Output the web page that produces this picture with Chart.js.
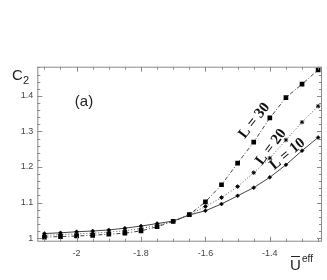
<!DOCTYPE html>
<html>
<head>
<meta charset="utf-8">
<script src="https://cdn.jsdelivr.net/npm/chart.js@4"></script>
<style>
  html, body { margin: 0; padding: 0; background: #fff; }
  #wrap { width: 327px; height: 280px; }
</style>
</head>
<body>
<div id="wrap"><canvas id="c2Chart" width="327" height="280"></canvas></div>
<script>
// U_eff values (x) shared by all three series
const uEff = [-2.1, -2.05, -2.0, -1.95, -1.9, -1.85, -1.8, -1.75, -1.7, -1.65,
              -1.6, -1.55, -1.5, -1.45, -1.4, -1.35, -1.3, -1.25];
const c2L10 = [1.013, 1.015, 1.018, 1.020, 1.023, 1.028, 1.034, 1.041, 1.048, 1.065,
               1.077, 1.096, 1.119, 1.142, 1.171, 1.206, 1.246, 1.283];
const c2L20 = [1.008, 1.010, 1.012, 1.014, 1.017, 1.021, 1.027, 1.036, 1.047, 1.066,
               1.089, 1.114, 1.145, 1.184, 1.225, 1.276, 1.326, 1.371];
const c2L30 = [1.003, 1.0045, 1.006, 1.008, 1.011, 1.014, 1.0205, 1.032, 1.047, 1.066,
               1.102, 1.150, 1.211, 1.270, 1.338, 1.395, 1.433, 1.473];
const xTickLabels = [-2, -1.8, -1.6, -1.4];
const yTickLabels = [1, 1.1, 1.2, 1.3, 1.4];
const curveLabels = [
  { text: 'L = 30', x: -1.448, y: 1.330, angle: -52 },
  { text: 'L = 20', x: -1.396, y: 1.256, angle: -53 },
  { text: 'L = 10', x: -1.345, y: 1.236, angle: -40 }
];

const pts = arr => arr.map((v, i) => ({ x: uEff[i], y: v }));
const fmt = v => String(Math.round(v * 10) / 10);

// frame with inward ticks on all sides + text annotations
const framePlugin = {
  id: 'frame',
  afterDraw(chart) {
    const { ctx, chartArea: a, scales: { x, y } } = chart;
    ctx.save();
    ctx.strokeStyle = '#8a8a8a';
    ctx.lineWidth = 1;
    ctx.strokeRect(a.left + 0.5, a.top + 0.5, a.right - a.left - 1, a.bottom - a.top - 1);

    ctx.beginPath();
    for (let i = -44; i <= -24; i++) {
      const v = i * 0.05;
      if (v < x.min || v > x.max) continue;
      const px = Math.round(x.getPixelForValue(v)) + 0.5;
      const len = (Math.abs(v / 0.2 - Math.round(v / 0.2)) < 1e-6) ? 5 : 3;
      ctx.moveTo(px, a.bottom); ctx.lineTo(px, a.bottom - len);
      ctx.moveTo(px, a.top); ctx.lineTo(px, a.top + len);
    }
    for (let i = 49; i <= 75; i++) {
      const v = i * 0.02;
      if (v < y.min || v > y.max) continue;
      const py = Math.round(y.getPixelForValue(v)) + 0.5;
      const len = (Math.abs(v / 0.1 - Math.round(v / 0.1)) < 1e-6) ? 5 : 3;
      ctx.moveTo(a.left, py); ctx.lineTo(a.left + len, py);
      ctx.moveTo(a.right, py); ctx.lineTo(a.right - len, py);
    }
    ctx.stroke();

    // curve labels
    ctx.fillStyle = '#111';
    ctx.font = 'bold 15px "Liberation Serif", "DejaVu Serif", serif';
    ctx.textAlign = 'center';
    ctx.textBaseline = 'middle';
    curveLabels.forEach(l => {
      ctx.save();
      ctx.translate(x.getPixelForValue(l.x), y.getPixelForValue(l.y));
      ctx.rotate(l.angle * Math.PI / 180);
      ctx.fillText(l.text, 0, 0);
      ctx.restore();
    });

    // panel label and axis titles
    ctx.fillStyle = '#222';
    ctx.font = '15px "Liberation Sans", Arial, sans-serif';
    ctx.textAlign = 'center';
    ctx.fillText('(a)', 84, 102);

    ctx.textAlign = 'left';
    ctx.textBaseline = 'alphabetic';
    ctx.font = '15px "Liberation Sans", Arial, sans-serif';
    ctx.fillText('C', 12, 80);
    ctx.font = '11px "Liberation Sans", Arial, sans-serif';
    ctx.fillText('2', 23, 84);

    ctx.font = '15px "Liberation Sans", Arial, sans-serif';
    ctx.fillText('U', 290, 270);
    ctx.fillRect(291, 256, 9, 1);
    ctx.font = '10px "Liberation Sans", Arial, sans-serif';
    ctx.fillText('eff', 302, 262);
    ctx.restore();
  }
};

new Chart(document.getElementById('c2Chart'), {
  type: 'line',
  data: {
    datasets: [
      { label: 'L = 10', data: pts(c2L10), borderColor: '#444', borderWidth: 1,
        pointStyle: 'rectRot', pointRadius: 2, pointBackgroundColor: '#000', pointBorderColor: '#000', pointBorderWidth: 0.5 },
      { label: 'L = 20', data: pts(c2L20), borderColor: '#555', borderWidth: 1, borderDash: [1, 2],
        pointStyle: 'star', pointRadius: 2.2, pointBackgroundColor: '#000', pointBorderColor: '#000', pointBorderWidth: 1 },
      { label: 'L = 30', data: pts(c2L30), borderColor: '#444', borderWidth: 1, borderDash: [4, 2, 1, 2],
        pointStyle: 'rect', pointRadius: 3.3, pointBackgroundColor: '#000', pointBorderColor: '#000', pointBorderWidth: 0 }
    ]
  },
  options: {
    responsive: false,
    animation: false,
    layout: { padding: { top: 66.7, right: 4.3, left: 0, bottom: 0 } },
    plugins: { legend: { display: false }, tooltip: { enabled: false } },
    scales: {
      x: {
        type: 'linear', min: -2.122, max: -1.238,
        grid: { display: false, drawTicks: false }, border: { display: false },
        ticks: { stepSize: 0.2, includeBounds: false, callback: fmt, padding: 6,
                 color: '#444', font: { size: 9, family: '"Liberation Sans", Arial, sans-serif' },
                 maxRotation: 0 },
        afterFit: s => { s.height = 38.3; }
      },
      y: {
        type: 'linear', min: 0.99, max: 1.482,
        grid: { display: false, drawTicks: false }, border: { display: false },
        ticks: { stepSize: 0.1, includeBounds: false, callback: fmt, padding: 4,
                 color: '#444', font: { size: 9, family: '"Liberation Sans", Arial, sans-serif' } },
        afterFit: s => { s.width = 37.3; }
      }
    }
  },
  plugins: [framePlugin]
});
</script>
</body>
</html>
